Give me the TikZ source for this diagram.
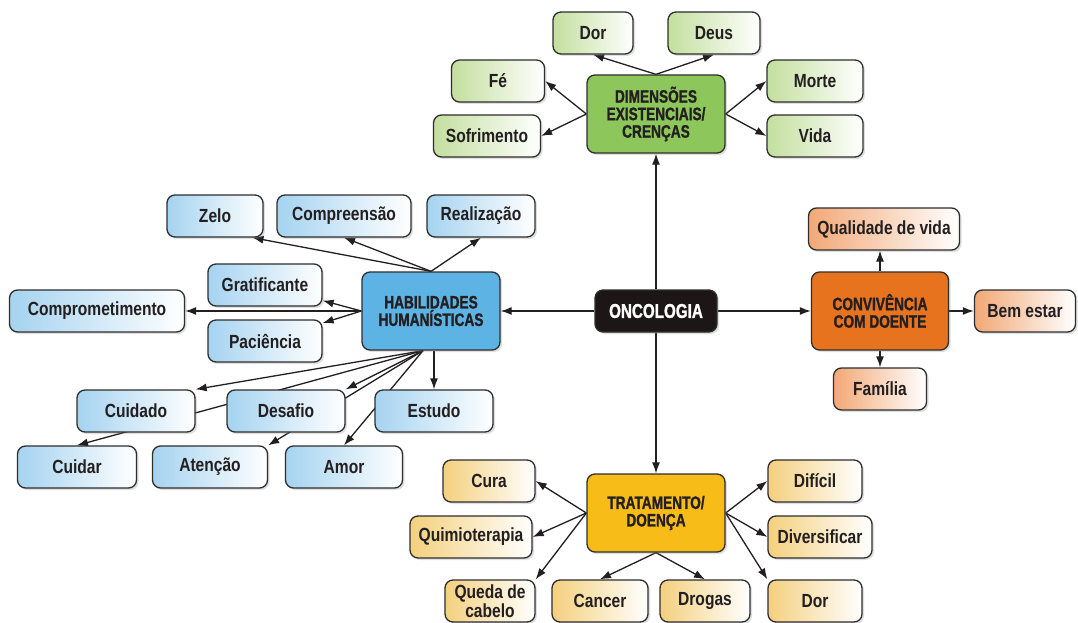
\documentclass[tikz,border=0pt]{standalone}
\usepackage{fontspec}
\setmainfont{Liberation Sans}[FakeStretch=0.82]
\newfontfamily\hubfont{Liberation Sans}[FakeStretch=0.76,FakeBold=1.2]
\usetikzlibrary{arrows.meta,shadows,backgrounds}

\definecolor{greenhub}{HTML}{8DC75B}
\definecolor{greenleaf}{HTML}{C3DF9E}
\definecolor{bluehub}{HTML}{5DB3E4}
\definecolor{blueleaf}{HTML}{A5D3F0}
\definecolor{orangehub}{HTML}{E8731F}
\definecolor{orangeleaf}{HTML}{F2A876}
\definecolor{yellowhub}{HTML}{F8BC18}
\definecolor{yellowleaf}{HTML}{F4D07E}
\definecolor{onchub}{HTML}{1C1616}
\definecolor{boxline}{HTML}{2E2E2E}
\definecolor{labeltext}{HTML}{231F20}

\begin{document}
\begin{tikzpicture}[x=1pt, y=-1pt, >={Latex[length=11pt,width=8pt]},
    box/.style={draw=boxline, line width=1.3pt, rounded corners=8pt,
        minimum height=42pt, inner sep=2pt, text=labeltext,
        font=\fontsize{19}{18}\selectfont\bfseries,
        drop shadow={shadow xshift=2pt, shadow yshift=-2pt, opacity=0.25}},
    leaf/.style={box, left color=#1, right color=white},
    hub/.style={box, fill=#1, minimum width=138pt, minimum height=78pt,
        align=center, font=\hubfont\fontsize{18}{17.5}\selectfont\bfseries},
    link/.style={->, line width=1.3pt, draw=labeltext}]

    \useasboundingbox (0,0) rectangle (1078,623);

    % centre
    \node[box, fill=onchub, text=white, minimum width=122pt,
        font=\hubfont\fontsize{20}{20}\selectfont\bfseries] (onc) at (656,311) {ONCOLOGIA};

    % dimensoes existenciais
    \node[hub=greenhub] (dim) at (656,114) {DIMENSÕES\\EXISTENCIAIS/\\CRENÇAS};
    \node[leaf=greenleaf, minimum width=80pt] (dor) at (593,33) {Dor};
    \node[leaf=greenleaf, minimum width=92pt] (deus) at (714,33) {Deus};
    \node[leaf=greenleaf, minimum width=93pt] (fe) at (498,81) {Fé};
    \node[leaf=greenleaf, minimum width=107pt] (sofrimento) at (487,136) {Sofrimento};
    \node[leaf=greenleaf, minimum width=96pt] (morte) at (815,81) {Morte};
    \node[leaf=greenleaf, minimum width=96pt] (vida) at (815,136) {Vida};

    % habilidades humanisticas
    \node[hub=bluehub] (hab) at (431,311) {HABILIDADES\\HUMANÍSTICAS};
    \node[leaf=blueleaf, minimum width=96pt] (zelo) at (215,216) {Zelo};
    \node[leaf=blueleaf, minimum width=134pt] (compreensao) at (344,216) {Compreensão};
    \node[leaf=blueleaf, minimum width=108pt] (realizacao) at (481,216) {Realização};
    \node[leaf=blueleaf, minimum width=114pt] (gratificante) at (265,285) {Gratificante};
    \node[leaf=blueleaf, minimum width=175pt] (comprometimento) at (97,311) {Comprometimento};
    \node[leaf=blueleaf, minimum width=114pt] (paciencia) at (265,341) {Paciência};
    \node[leaf=blueleaf, minimum width=118pt] (cuidado) at (136,411) {Cuidado};
    \node[leaf=blueleaf, minimum width=118pt] (desafio) at (286,411) {Desafio};
    \node[leaf=blueleaf, minimum width=118pt] (estudo) at (434,411) {Estudo};
    \node[leaf=blueleaf, minimum width=119pt] (cuidar) at (77,467) {Cuidar};
    \node[leaf=blueleaf, minimum width=115pt] (atencao) at (210,467) {Atenção};
    \node[leaf=blueleaf, minimum width=117pt] (amor) at (344,467) {Amor};

    % convivencia com doente
    \node[hub=orangehub, minimum width=137pt] (conv) at (880,311) {CONVIVÊNCIA\\COM DOENTE};
    \node[leaf=orangeleaf, minimum width=151pt] (qualidade) at (884,229) {Qualidade de vida};
    \node[leaf=orangeleaf, minimum width=101pt] (bemestar) at (1025,311) {Bem estar};
    \node[leaf=orangeleaf, minimum width=93pt] (familia) at (880,389) {Família};

    % tratamento / doenca
    \node[hub=yellowhub] (trat) at (656,513) {TRATAMENTO/\\DOENÇA};
    \node[leaf=yellowleaf, minimum width=92pt] (cura) at (489,481) {Cura};
    \node[leaf=yellowleaf, minimum width=122pt] (quimio) at (471,537) {Quimioterapia};
    \node[leaf=yellowleaf, minimum width=90pt, align=center,
        font=\fontsize{19}{17}\selectfont\bfseries] (queda) at (490,601) {Queda de\\cabelo};
    \node[leaf=yellowleaf, minimum width=96pt] (cancer) at (600,601) {Cancer};
    \node[leaf=yellowleaf, minimum width=90pt] (drogas) at (705,601) {Drogas};
    \node[leaf=yellowleaf, minimum width=94pt] (dificil) at (815,481) {Difícil};
    \node[leaf=yellowleaf, minimum width=104pt] (diversificar) at (820,537) {Diversificar};
    \node[leaf=yellowleaf, minimum width=94pt] (dortrat) at (815,601) {Dor};

    \begin{scope}[on background layer]
        \fill[white] (0,0) rectangle (1078,623);

        \draw[link] (onc) -- (dim);
        \draw[link] (onc) -- (trat);
        \draw[link] (onc) -- (hab);
        \draw[link] (onc) -- (conv);

        \foreach \t in {dor,deus} \draw[link] (dim.north) -- (\t.south);
        \foreach \t in {fe,sofrimento} \draw[link] (dim.west) -- (\t.east);
        \foreach \t in {morte,vida} \draw[link] (dim.east) -- (\t.west);

        \draw[link] (hab.north) -- (zelo.-30);
        \draw[link] (hab.north) -- (compreensao.south);
        \draw[link] (hab.north) -- (realizacao.south);
        \foreach \t in {gratificante,comprometimento,paciencia} \draw[link] (hab.west) -- (\t);
        \coordinate (habs) at ([xshift=-8pt]hab.south);
        \draw[link] (habs) -- (cuidado.north east);
        \draw[link] (habs) -- (desafio.north east);
        \draw[link] (habs) -- (cuidar.north);
        \draw[link] (habs) -- (atencao.north east);
        \draw[link] (habs) -- (amor.north);
        \draw[link] (hab.south -| estudo) -- (estudo);

        \draw[link] (conv.north) -- (conv.north |- qualidade.south);
        \draw[link] (conv.east) -- (bemestar);
        \draw[link] (conv.south) -- (familia);

        \foreach \t in {cura,quimio} \draw[link] (trat.west) -- (\t.east);
        \draw[link] (trat.west) -- (queda.north east);
        \foreach \t in {cancer,drogas} \draw[link] (trat.south) -- (\t.north);
        \foreach \t in {dificil,diversificar} \draw[link] (trat.east) -- (\t.west);
        \draw[link] (trat.east) -- (dortrat.north west);
    \end{scope}

\end{tikzpicture}
\end{document}
